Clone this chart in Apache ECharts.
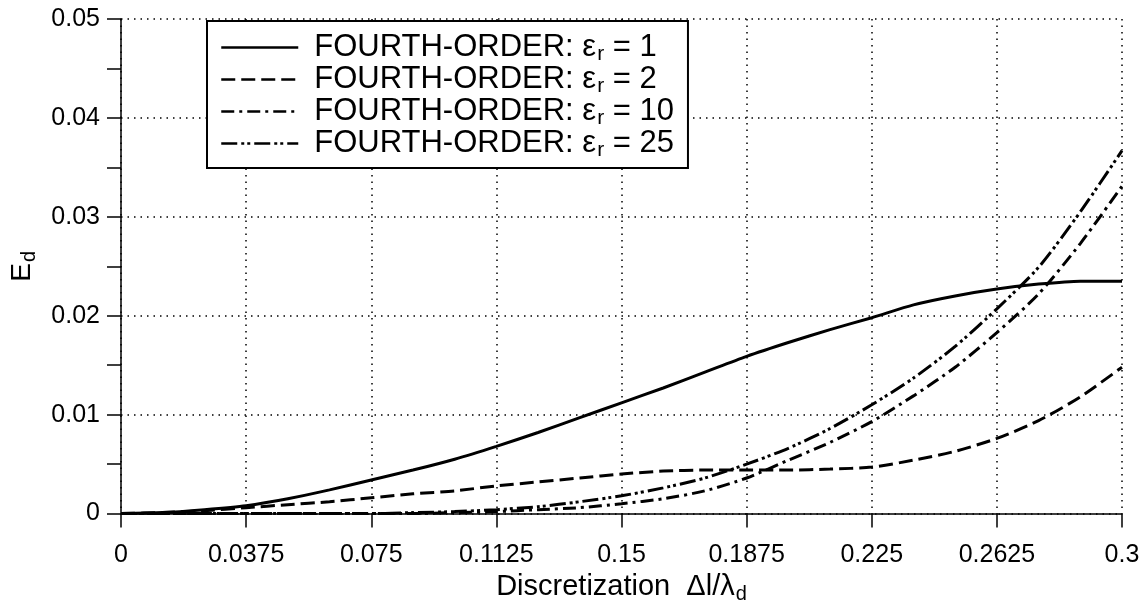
<!DOCTYPE html>
<html><head><meta charset="utf-8">
<script src="https://cdn.jsdelivr.net/npm/echarts@6/dist/echarts.min.js"></script>
<style>html,body{margin:0;padding:0;background:#fff}#c{width:1143px;height:609px}</style>
</head><body><div id="c"></div>
<script>
const xValues = [0,0.0125,0.025,0.0375,0.05,0.0625,0.075,0.0875,0.1,0.1125,0.125,0.1375,0.15,0.1625,0.175,0.1875,0.2,0.2125,0.225,0.2375,0.25,0.2625,0.275,0.2875,0.3];
const er1  = [0,0.0001,0.0004,0.0008,0.0015,0.0024,0.0034,0.0044,0.0055,0.0068,0.0082,0.0097,0.0112,0.0127,0.0143,0.0159,0.0173,0.0186,0.0198,0.0211,0.0220,0.0227,0.0232,0.0235,0.0235];
const er2  = [0,0.0001,0.0003,0.0006,0.0009,0.0012,0.0016,0.0020,0.0023,0.0028,0.0032,0.0036,0.0040,0.0043,0.0044,0.0044,0.0044,0.0045,0.0047,0.0054,0.0063,0.0076,0.0094,0.0118,0.0148];
const er10 = [0,0,0,0,0,0,0,0,0.0001,0.0002,0.0004,0.0006,0.0010,0.0015,0.0023,0.0036,0.0054,0.0072,0.0093,0.0119,0.0148,0.0183,0.0222,0.0273,0.0331];
const er25 = [0,0,0,0,0,0,0,0.0001,0.0002,0.0004,0.0007,0.0012,0.0018,0.0026,0.0036,0.0050,0.0066,0.0086,0.0110,0.0137,0.0169,0.0207,0.0249,0.0305,0.0367];
const epsValues = [1, 2, 10, 25];
const xTickLabels = ['0','0.0375','0.075','0.1125','0.15','0.1875','0.225','0.2625','0.3'];
const yTickLabels = ['0','0.01','0.02','0.03','0.04','0.05'];

const FONT = 'Liberation Sans, Arial, Helvetica, sans-serif';
const seriesData = [er1, er2, er10, er25];
const dashes = ['solid', [14, 6], [13, 5, 3, 5], [16, 4, 3, 3, 3, 4]];
const names = epsValues.map(v => 'FOURTH-ORDER: εr = ' + v);

const chart = echarts.init(document.getElementById('c'), null, {renderer: 'canvas'});
chart.setOption({
  animation: false,
  backgroundColor: '#fff',
  grid: {left: 121, right: 21, top: 19, bottom: 93},
  legend: {
    orient: 'vertical', left: 207, top: 21,
    data: names,
    itemWidth: 77, itemHeight: 14, itemGap: -3,
    padding: [9, 14, 7, 13],
    borderColor: '#000', borderWidth: 2, backgroundColor: '#fff',
    selectedMode: false,
    itemStyle: {opacity: 0},
    lineStyle: {width: 2.5},
    formatter: name => {
      const v = name.split('= ')[1];
      return '{a|FOURTH-ORDER: }{a|ε}{s|r}{a| = ' + v + '}';
    },
    textStyle: {
      color: '#000', fontFamily: FONT, fontSize: 31, padding: [0, 0, 0, 11],
      rich: {
        a: {fontSize: 31, fontFamily: FONT, color: '#000', lineHeight: 30},
        s: {fontSize: 21, fontFamily: FONT, color: '#000', padding: [14, 0, 0, 1], lineHeight: 30}
      }
    }
  },
  xAxis: {
    type: 'value', min: 0, max: 0.3, interval: 0.0375,
    name: '{a|Discretization  Δl/λ}{s|d}',
    nameLocation: 'middle', nameGap: 55,
    nameTextStyle: {
      color: '#000', fontFamily: FONT, fontSize: 29,
      rich: {
        a: {fontSize: 29, fontFamily: FONT, color: '#000'},
        s: {fontSize: 20, fontFamily: FONT, color: '#000', padding: [14, 0, 0, 1]}
      }
    },
    axisLine: {show: true, lineStyle: {color: '#000', width: 1.5}},
    axisTick: {show: true, inside: false, length: 14, lineStyle: {color: '#000', width: 1.5}},
    axisLabel: {
      color: '#000', fontFamily: FONT, fontSize: 25, margin: 29,
      formatter: v => xTickLabels[Math.round(v / 0.0375)]
    },
    splitLine: {show: true, lineStyle: {color: '#000', width: 1.5, type: [1.5, 5]}}
  },
  yAxis: {
    type: 'value', min: 0, max: 0.05, interval: 0.01,
    name: '{a|E}{s|d}',
    nameLocation: 'middle', nameGap: 82, nameRotate: 90,
    nameTextStyle: {
      color: '#000', fontFamily: FONT, fontSize: 28,
      rich: {
        a: {fontSize: 28, fontFamily: FONT, color: '#000'},
        s: {fontSize: 20, fontFamily: FONT, color: '#000', padding: [14, 0, 0, 1]}
      }
    },
    axisLine: {show: true, lineStyle: {color: '#000', width: 1.5}},
    axisTick: {show: true, inside: false, length: 14, lineStyle: {color: '#000', width: 1.5}},
    minorTick: {show: true, splitNumber: 2, length: 14, lineStyle: {color: '#000', width: 1.5}},
    axisLabel: {
      color: '#000', fontFamily: FONT, fontSize: 25, margin: 21,
      formatter: v => yTickLabels[Math.round(v / 0.01)]
    },
    splitLine: {show: true, lineStyle: {color: '#000', width: 1.5, type: [1.5, 5]}}
  },
  series: seriesData.map((d, i) => ({
    name: names[i],
    type: 'line',
    symbol: 'none',
    smooth: 0.25,
    data: xValues.map((x, k) => [x, d[k]]),
    lineStyle: {color: '#000', width: 3, type: dashes[i]},
    itemStyle: {color: '#000'},
    z: 3 + i
  }))
});
</script>
</body></html>
